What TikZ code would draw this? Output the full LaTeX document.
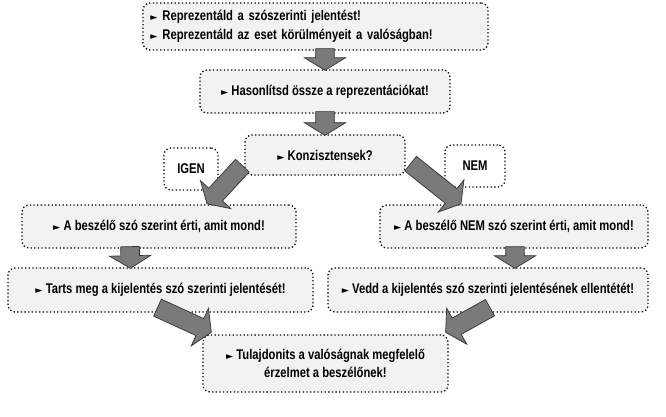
\documentclass[tikz,border=0pt]{standalone}
\usepackage{fontspec}
\setmainfont{Liberation Sans}[FakeStretch=0.8]
\newfontfamily\symfont{DejaVu Sans}
\usetikzlibrary{calc}

\tikzset{
  box/.style={draw=black, dotted, line width=1.1pt, rounded corners=6pt, fill=black!5,
    font=\fontsize{12}{15}\selectfont\bfseries, align=center, inner sep=2pt},
  fatarrow/.style={draw=black!80, line width=0.6pt, fill=black!52, line join=miter}
}
\newcommand{\tri}{{\symfont\fontsize{8}{9}\selectfont ►}\ }
\newcommand{\fatarrow}[2]{%
  \coordinate (hb) at ($(#2)!0.38cm!(#1)$);
  \draw[fatarrow] ($(#1)!0.28cm!90:(#2)$) -- ($(hb)!0.28cm!90:(#2)$)
    -- ($(hb)!0.62cm!90:(#2)$) -- (#2) -- ($(hb)!0.62cm!-90:(#2)$)
    -- ($(hb)!0.28cm!-90:(#2)$) -- ($(#1)!0.28cm!-90:(#2)$) -- cycle;}

\begin{document}
\begin{tikzpicture}[x=0.03cm,y=-0.03cm]
\useasboundingbox (0,0) rectangle (666,416);

% boxes
\node[box, minimum width=10.35cm, minimum height=1.41cm, text width=9.9cm, align=left] (repr) at (315.5,26.5)
  {\tri Reprezentáld a szószerinti jelentést!\\[1pt]\tri Reprezentáld az eset körülményeit a valóságban!};
\node[box, minimum width=7.5cm, minimum height=1.29cm] (hason) at (325,91.5) {\tri Hasonlítsd össze a reprezentációkat!};
\node[box, minimum width=4.8cm, minimum height=1.2cm] (konz) at (325,155) {\tri Konzisztensek?};
\node[box, fill=white, minimum width=1.62cm, minimum height=1.26cm] (igen) at (191,169) {IGEN};
\node[box, fill=white, minimum width=1.8cm, minimum height=1.26cm] (nem) at (475,166) {NEM};
\node[box, minimum width=8.22cm, minimum height=1.29cm] (szoszer) at (159,226.5) {\tri A beszélő szó szerint érti, amit mond!};
\node[box, minimum width=8.04cm, minimum height=1.29cm] (nemszoszer) at (514,226.5) {\tri A beszélő NEM szó szerint érti, amit mond!};
\node[box, minimum width=9.15cm, minimum height=1.32cm] (tarts) at (160.5,290) {\tri Tarts meg a kijelentés szó szerinti jelentését!};
\node[box, minimum width=9.6cm, minimum height=1.32cm] (vedd) at (488,290) {\tri Vedd a kijelentés szó szerinti jelentésének ellentétét!};
\node[box, minimum width=7.35cm, minimum height=1.71cm] (tulaj) at (325.5,363.5) {\tri Tulajdonits a valóságnak megfelelő\\érzelmet a beszélőnek!};

% arrow ends
\coordinate (r1) at ($(repr.south)+(9.5,-2)$);   \coordinate (h1) at ($(hason.north)+(0,1)$);
\coordinate (h2) at ($(hason.south)+(0,-2)$);    \coordinate (k1) at ($(konz.north)+(0,1)$);
\coordinate (k2) at ($(konz.south west)+(-2,-10)$); \coordinate (s1) at ($(szoszer.north)+(48,-0.5)$);
\coordinate (k3) at ($(konz.south east)+(5,-12)$);  \coordinate (n1) at ($(nemszoszer.north)+(-53,-0.5)$);
\coordinate (s2) at ($(szoszer.south)+(-29,-2)$);   \coordinate (t1) at ($(tarts.north)+(-30,1)$);
\coordinate (n2) at ($(nemszoszer.south)+(1,-2)$);  \coordinate (v1) at ($(vedd.north)+(27,1)$);
\coordinate (t2) at ($(tarts.south)+(-3,-5)$);      \coordinate (u1) at ($(tulaj.north west)+(9,-2)$);
\coordinate (v2) at ($(vedd.south)+(2,-5)$);        \coordinate (u2) at ($(tulaj.north east)+(-3,-2)$);

% connectors
\fatarrow{r1}{h1}
\fatarrow{h2}{k1}
\fatarrow{k2}{s1}
\fatarrow{k3}{n1}
\fatarrow{s2}{t1}
\fatarrow{n2}{v1}
\fatarrow{t2}{u1}
\fatarrow{v2}{u2}
\end{tikzpicture}
\end{document}
